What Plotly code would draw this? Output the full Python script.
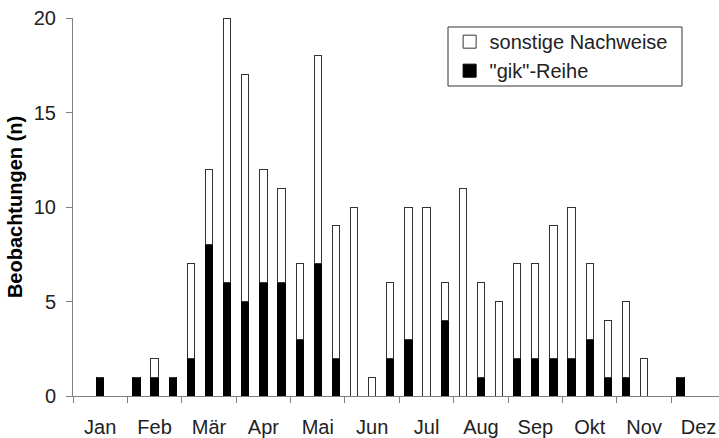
import plotly.graph_objects as go

# decades (3 per month), Jan .. Dez
months = ["Jan", "Feb", "Mär", "Apr", "Mai", "Jun",
          "Jul", "Aug", "Sep", "Okt", "Nov", "Dez"]

# "gik"-Reihe per decade
gik = [0, 1, 0,
       1, 1, 1,
       2, 8, 6,
       5, 6, 6,
       3, 7, 2,
       0, 0, 2,
       3, 0, 4,
       0, 1, 0,
       2, 2, 2,
       2, 3, 1,
       1, 0, 0,
       1, 0, 0]

# total observations per decade
total = [0, 1, 0,
         1, 2, 1,
         7, 12, 20,
         17, 12, 11,
         7, 18, 9,
         10, 1, 6,
         10, 10, 6,
         11, 6, 5,
         7, 7, 9,
         10, 7, 4,
         5, 2, 0,
         1, 0, 0]

sonstige = [t - g for t, g in zip(total, gik)]
x = [i + 0.5 for i in range(len(total))]

font = "Liberation Sans, Arial, sans-serif"

fig = go.Figure()
fig.add_trace(go.Bar(
    x=x, y=gik, name='"gik"-Reihe', width=0.4, showlegend=False,
    marker=dict(color="black", line=dict(color="black", width=1)),
))
fig.add_trace(go.Bar(
    x=x, y=sonstige, name="sonstige Nachweise", width=0.4, showlegend=False,
    marker=dict(color="white", line=dict(color="#333333", width=1)),
))

# legend entries with larger square symbols
fig.add_trace(go.Scatter(
    x=[None], y=[None], mode="markers", name='"gik"-Reihe',
    marker=dict(symbol="square", size=13, color="black",
                line=dict(color="black", width=1)),
))
fig.add_trace(go.Scatter(
    x=[None], y=[None], mode="markers", name="sonstige Nachweise",
    marker=dict(symbol="square", size=13, color="white",
                line=dict(color="#333333", width=1)),
))

fig.update_layout(
    barmode="stack",
    width=719, height=438,
    margin=dict(l=73, r=0, t=18, b=42),
    plot_bgcolor="white", paper_bgcolor="white",
    font=dict(family=font, size=20, color="#222222"),
    showlegend=True,
    legend=dict(
        traceorder="reversed",
        x=0.583, y=0.989, xanchor="left", yanchor="top",
        bgcolor="rgba(0,0,0,0)", borderwidth=0,
        font=dict(size=20, color="#222222"),
        tracegroupgap=0, itemwidth=30,
    ),
    shapes=[dict(
        type="rect", xref="paper", yref="paper",
        x0=0.5805, x1=0.9427, y0=0.8201, y1=0.9762,
        line=dict(color="#333333", width=1), fillcolor="rgba(0,0,0,0)",
    )],
    xaxis=dict(
        range=[0, 35.63],
        automargin=False,
        tickmode="array",
        tickvals=[3 * i + 1.5 for i in range(12)],
        ticktext=months,
        ticks="",
        showline=True, linecolor="#808080", linewidth=1,
        showgrid=False, zeroline=False,
        ticklabelstandoff=13,
        minor=dict(tickmode="linear", tick0=0, dtick=3, ticks="outside",
                   ticklen=6, tickcolor="#808080", showgrid=False),
    ),
    yaxis=dict(
        range=[0, 20],
        automargin=False,
        tickvals=[0, 5, 10, 15, 20],
        ticks="outside", ticklen=6, tickcolor="#808080",
        showline=True, linecolor="#808080", linewidth=1,
        showgrid=False, zeroline=False,
        ticklabelstandoff=6,
        title=dict(text="<b>Beobachtungen (n)</b>", standoff=5,
                   font=dict(size=20, color="black")),
    ),
)

# drop the browser's default body margin so the figure sits at the page corner
fig.write_html("out.html", config={"displayModeBar": False},
               post_script="document.body.style.margin = '0';")
